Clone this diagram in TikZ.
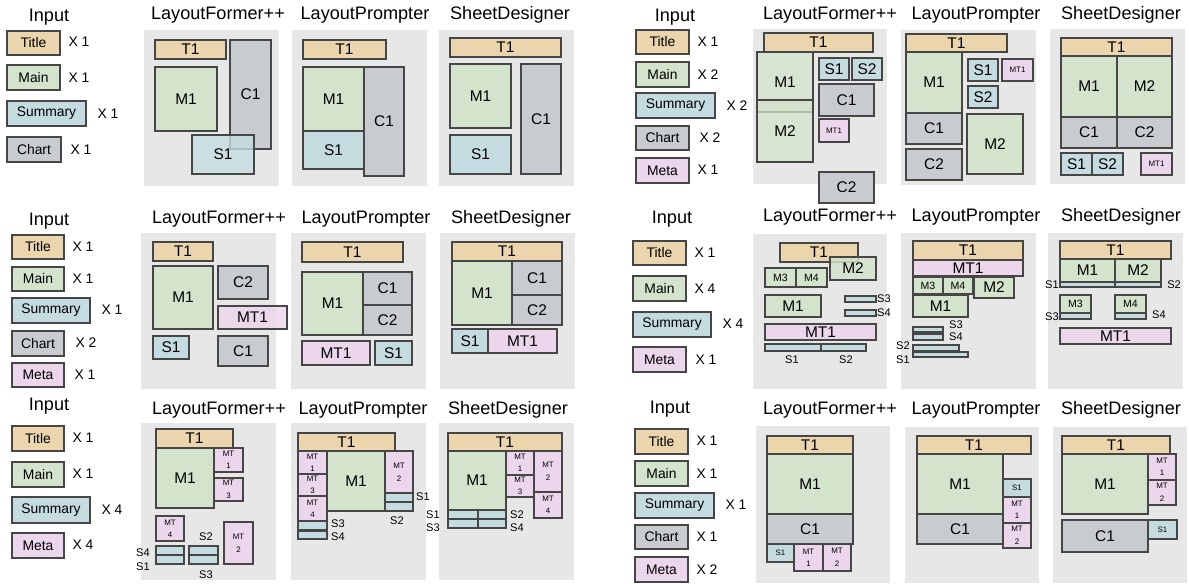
\documentclass[tikz,border=0pt]{standalone}
\usepackage{fontspec}
\setmainfont{Liberation Sans}

\definecolor{edge}{RGB}{70,70,70}
\definecolor{ctitle}{RGB}{234,213,172}
\definecolor{cmain}{RGB}{212,227,204}
\definecolor{csum}{RGB}{196,220,224}
\definecolor{cchart}{RGB}{200,203,208}
\definecolor{cmeta}{RGB}{235,214,235}
\definecolor{cpanel}{RGB}{231,231,231}

% box with centred label, coordinates in pixels
\newcommand{\blk}[6]{\draw[#1] (#2,#3) rectangle (#4,#5);
  \node[lbl] at ({(#2+#4)/2},{(#3+#5)/2}) {#6};}
% input box, smaller label
\newcommand{\inbox}[6]{\draw[#1] (#2,#3) rectangle (#4,#5);
  \node[cnt] at ({(#2+#4)/2},{(#3+#5)/2}) {#6};}
\newcommand{\fsm}{\fontsize{6}{6.5}\selectfont}
\newcommand{\fxs}{\fontsize{4.5}{5}\selectfont}
\newcommand{\mtl}[1]{{\fxs\shortstack{MT\\[1pt]#1}}}

\begin{document}
\begin{tikzpicture}
  [x=0.02cm, y=-0.02cm,
   every node/.style={inner sep=0pt},
   hd/.style={font=\fontsize{10.3}{12}\selectfont},
   cnt/.style={font=\fontsize{7.9}{9}\selectfont},
   lbl/.style={font=\fontsize{8.8}{10}\selectfont},
   bl/.style={font=\fontsize{6.3}{7}\selectfont},
   panel/.style={fill=cpanel},
   bx/.style={draw=edge, line width=0.6pt},
   tb/.style={bx, fill=ctitle},
   mb/.style={bx, fill=cmain},
   sb/.style={bx, fill=csum},
   cb/.style={bx, fill=cchart},
   mtb/.style={bx, fill=cmeta}]
  \useasboundingbox (0,0) rectangle (1189,583);

  % ---- group 1 ----
  \node[hd] (in1) at (49,17) {Input};
  \inbox{tb}{7}{31}{60}{55}{Title}     \node[cnt] at (79,42) {X 1};
  \inbox{mb}{7}{65}{60}{90}{Main}      \node[cnt] at (79,78) {X 1};
  \inbox{sb}{7}{101}{86}{126}{Summary} \node[cnt] at (108,114) {X 1};
  \inbox{cb}{7}{137}{61}{162}{Chart}   \node[cnt] at (81,150) {X 1};

  \fill[panel] (144,30) rectangle (279,186);
  \node[hd] (lf1) at (218,15) {LayoutFormer++};
  \blk{tb}{155}{40}{226}{59}{T1}
  \blk{mb}{155}{67}{217}{131}{M1}
  \blk{cb}{230}{40}{271}{149}{C1}
  \blk{sb,fill opacity=.8}{192}{135}{254}{174}{S1}

  \fill[panel] (292,30) rectangle (427,186);
  \node[hd] (lp1) at (365,15) {LayoutPrompter};
  \blk{tb}{303}{40}{386}{59}{T1}
  \blk{mb}{303}{67}{364}{131}{M1}
  \blk{sb}{303}{131}{364}{169}{S1}
  \blk{cb}{364}{67}{404}{176}{C1}

  \fill[panel] (439,30) rectangle (574,186);
  \node[hd] (sd1) at (510,15) {SheetDesigner};
  \blk{tb}{450}{38}{561}{57}{T1}
  \blk{mb}{450}{64}{511}{128}{M1}
  \blk{sb}{450}{135}{511}{174}{S1}
  \blk{cb}{521}{64}{561}{174}{C1}

  % ---- group 2 ----
  \node[hd] (in2) at (675,17) {Input};
  \inbox{tb}{636}{30}{689}{54}{Title}     \node[cnt] at (708,42) {X 1};
  \inbox{mb}{636}{62}{689}{87}{Main}      \node[cnt] at (708,75) {X 2};
  \inbox{sb}{636}{93}{715}{118}{Summary}  \node[cnt] at (737,106) {X 2};
  \inbox{cb}{636}{126}{689}{150}{Chart}   \node[cnt] at (710,138) {X 2};
  \inbox{mtb}{636}{158}{689}{183}{Meta}   \node[cnt] at (708,170) {X 1};

  \fill[panel] (753,29) rectangle (887,184);
  \node[hd] (lf2) at (830,15) {LayoutFormer++};
  \blk{tb}{764}{33}{873}{52}{T1}
  \blk{mb,fill opacity=.75}{757}{52}{813}{112}{M1}
  \blk{mb,fill opacity=.75}{757}{100}{813}{162}{M2}
  \blk{sb}{819}{58}{849}{80}{S1}
  \blk{sb}{852}{58}{882}{80}{S2}
  \blk{cb}{819}{84}{874}{116}{C1}
  \blk{mtb}{819}{119}{849}{142}{\fxs MT1}
  \blk{cb}{819}{172}{874}{203}{C2}

  \fill[panel] (901,30) rectangle (1036,185);
  \node[hd] (lp2) at (976,15) {LayoutPrompter};
  \blk{tb}{906}{34}{1007}{52}{T1}
  \blk{mb}{906}{52}{962}{113}{M1}
  \blk{cb}{906}{113}{962}{144}{C1}
  \blk{cb}{906}{149}{962}{180}{C2}
  \blk{sb}{968}{59}{998}{81}{S1}
  \blk{mtb}{1002}{59}{1033}{81}{\fxs MT1}
  \blk{sb}{968}{86}{998}{108}{S2}
  \blk{mb}{967}{114}{1023}{174}{M2}

  \fill[panel] (1050,29) rectangle (1185,184);
  \node[hd] (sd2) at (1121,15) {SheetDesigner};
  \blk{tb}{1061}{38}{1172}{56}{T1}
  \blk{mb}{1061}{56}{1117}{117}{M1}
  \blk{mb}{1117}{56}{1172}{117}{M2}
  \blk{cb}{1061}{117}{1117}{148}{C1}
  \blk{cb}{1117}{117}{1172}{148}{C2}
  \blk{sb}{1061}{153}{1092}{175}{S1}
  \blk{sb}{1092}{153}{1123}{175}{S2}
  \blk{mtb}{1141}{153}{1172}{175}{\fxs MT1}

  % ---- group 3 ----
  \node[hd] (in3) at (49,221) {Input};
  \inbox{tb}{12}{235}{64}{259}{Title}     \node[cnt] at (83,247) {X 1};
  \inbox{mb}{12}{267}{64}{291}{Main}      \node[cnt] at (83,279) {X 1};
  \inbox{sb}{12}{298}{90}{323}{Summary}   \node[cnt] at (112,310) {X 1};
  \inbox{cb}{12}{331}{64}{356}{Chart}     \node[cnt] at (86,343) {X 2};
  \inbox{mtb}{12}{363}{64}{387}{Meta}     \node[cnt] at (85,375) {X 1};

  \fill[panel] (141,233) rectangle (276,389);
  \node[hd] (lf3) at (219,219) {LayoutFormer++};
  \blk{tb}{153}{242}{213}{261}{T1}
  \blk{mb}{153}{266}{213}{329}{M1}
  \blk{cb}{218}{266}{268}{299}{C2}
  \blk{mtb,fill opacity=.8}{218}{306}{287}{329}{MT1}
  \blk{sb}{153}{336}{189}{359}{S1}
  \blk{cb}{218}{336}{268}{366}{C1}

  \fill[panel] (291,233) rectangle (426,389);
  \node[hd] (lp3) at (366,219) {LayoutPrompter};
  \blk{tb}{302}{242}{403}{262}{T1}
  \blk{mb}{302}{272}{363}{335}{M1}
  \blk{cb}{363}{272}{412}{305}{C1}
  \blk{cb}{363}{305}{412}{335}{C2}
  \blk{mtb}{302}{341}{370}{365}{MT1}
  \blk{sb}{375}{341}{412}{365}{S1}

  \fill[panel] (440,233) rectangle (575,389);
  \node[hd] (sd3) at (511,219) {SheetDesigner};
  \blk{tb}{452}{242}{562}{261}{T1}
  \blk{mb}{452}{261}{512}{325}{M1}
  \blk{cb}{512}{261}{562}{295}{C1}
  \blk{cb}{512}{295}{562}{325}{C2}
  \blk{sb}{452}{329}{488}{353}{S1}
  \blk{mtb}{488}{329}{557}{353}{MT1}

  % ---- group 4 ----
  \node[hd] (in4) at (672,219) {Input};
  \inbox{tb}{633}{241}{686}{265}{Title}    \node[cnt] at (705,253) {X 1};
  \inbox{mb}{633}{276}{686}{301}{Main}     \node[cnt] at (705,289) {X 4};
  \inbox{sb}{633}{312}{711}{337}{Summary}  \node[cnt] at (733,324) {X 4};
  \inbox{mtb}{633}{347}{686}{372}{Meta}    \node[cnt] at (706,360) {X 1};

  \fill[panel] (753,234) rectangle (887,389);
  \node[hd] (lf4) at (830,217) {LayoutFormer++};
  \blk{tb}{780}{243}{858}{262}{T1}
  \blk{mb,fill opacity=.85}{830}{257}{876}{280}{M2}
  \blk{mb}{765}{268}{796}{287}{\fsm M3}
  \blk{mb}{796}{268}{827}{287}{\fsm M4}
  \blk{mb}{765}{295}{821}{317}{M1}
  \blk{sb}{845}{296}{876}{302}{} \node[bl] at (884,299) {S3};
  \blk{sb}{845}{310}{876}{316}{} \node[bl] at (884,313) {S4};
  \blk{mtb}{765}{324}{876}{340}{MT1}
  \blk{sb}{765}{344}{821}{351}{} \node[bl] at (792,360) {S1};
  \blk{sb}{821}{344}{866}{351}{} \node[bl] at (846,360) {S2};

  \fill[panel] (901,233) rectangle (1036,389);
  \node[hd] (lp4) at (976,217) {LayoutPrompter};
  \blk{tb}{913}{241}{1023}{260}{T1}
  \blk{mtb}{913}{260}{1023}{276}{MT1}
  \blk{mb}{974}{277}{1014}{298}{M2}
  \blk{mb}{913}{277}{943}{294}{\fsm M3}
  \blk{mb}{943}{277}{973}{294}{\fsm M4}
  \blk{mb}{913}{295}{968}{317}{M1}
  \blk{sb}{913}{327}{943}{332}{} \node[bl] at (956,325) {S3};
  \blk{sb}{913}{334}{943}{340}{} \node[bl] at (956,337) {S4};
  \blk{sb}{913}{345}{959}{351}{} \node[bl] at (903,346) {S2};
  \blk{sb}{913}{352}{968}{357}{} \node[bl] at (903,360) {S1};

  \fill[panel] (1048,233) rectangle (1183,389);
  \node[hd] (sd4) at (1121,217) {SheetDesigner};
  \blk{tb}{1060}{241}{1171}{259}{T1}
  \blk{mb}{1060}{259}{1115}{282}{M1}
  \blk{mb}{1115}{259}{1161}{282}{M2}
  \blk{sb}{1060}{282}{1115}{287}{} \node[bl] at (1052,285) {S1};
  \blk{sb}{1115}{282}{1161}{287}{} \node[bl] at (1174,285) {S2};
  \blk{mb}{1060}{295}{1091}{313}{\fsm M3}
  \blk{sb}{1060}{313}{1091}{319}{} \node[bl] at (1052,317) {S3};
  \blk{mb}{1115}{295}{1146}{313}{\fsm M4}
  \blk{sb}{1115}{313}{1146}{319}{} \node[bl] at (1159,315) {S4};
  \blk{mtb}{1060}{328}{1171}{344}{MT1}

  % ---- group 5 ----
  \node[hd] (in5) at (49,406) {Input};
  \inbox{tb}{12}{426}{64}{451}{Title}     \node[cnt] at (83,438) {X 1};
  \inbox{mb}{12}{462}{64}{487}{Main}      \node[cnt] at (83,474) {X 1};
  \inbox{sb}{12}{497}{90}{523}{Summary}   \node[cnt] at (112,510) {X 4};
  \inbox{mtb}{12}{533}{64}{558}{Meta}     \node[cnt] at (83,545) {X 4};

  \fill[panel] (141,423) rectangle (276,580);
  \node[hd] (lf5) at (219,410) {LayoutFormer++};
  \blk{tb}{156}{429}{233}{448}{T1}
  \blk{mb}{156}{448}{214}{508}{M1}
  \blk{mtb}{214}{448}{243}{472}{\mtl{1}}
  \blk{mtb}{214}{478}{243}{501}{\mtl{3}}
  \blk{mtb}{156}{516}{184}{541}{\mtl{4}}
  \blk{mtb}{224}{522}{253}{564}{\mtl{2}}
  \blk{sb}{156}{546}{184}{555}{} \node[bl] at (143,553) {S4};
  \blk{sb}{156}{555}{184}{564}{} \node[bl] at (143,567) {S1};
  \blk{sb}{189}{546}{218}{555}{} \node[bl] at (206,537) {S2};
  \blk{sb}{189}{555}{218}{564}{} \node[bl] at (206,575) {S3};

  \fill[panel] (291,423) rectangle (426,580);
  \node[hd] (lp5) at (363,410) {LayoutPrompter};
  \blk{tb}{298}{433}{395}{451}{T1}
  \blk{mtb}{298}{451}{327}{474}{\mtl{1}}
  \blk{mtb}{298}{474}{327}{496}{\mtl{3}}
  \blk{mtb}{298}{496}{327}{521}{\mtl{4}}
  \blk{sb}{298}{521}{327}{530}{} \node[bl] at (338,524) {S3};
  \blk{sb}{298}{531}{327}{539}{} \node[bl] at (338,537) {S4};
  \blk{mb}{327}{451}{385}{511}{M1}
  \blk{mtb}{385}{451}{413}{493}{\mtl{2}}
  \blk{sb}{385}{493}{413}{502}{} \node[bl] at (423,497) {S1};
  \blk{sb}{385}{502}{413}{511}{} \node[bl] at (397,521) {S2};

  \fill[panel] (439,423) rectangle (574,580);
  \node[hd] (sd5) at (508,410) {SheetDesigner};
  \blk{tb}{448}{433}{562}{451}{T1}
  \blk{mb}{448}{451}{506}{510}{M1}
  \blk{mtb}{506}{451}{534}{475}{\mtl{1}}
  \blk{mtb}{506}{475}{534}{497}{\mtl{3}}
  \blk{mtb}{534}{451}{562}{492}{\mtl{2}}
  \blk{mtb}{534}{492}{562}{518}{\mtl{4}}
  \blk{sb}{448}{510}{478}{519}{} \node[bl] at (433,515) {S1};
  \blk{sb}{478}{510}{506}{519}{} \node[bl] at (517,515) {S2};
  \blk{sb}{448}{519}{478}{528}{} \node[bl] at (433,528) {S3};
  \blk{sb}{478}{519}{506}{528}{} \node[bl] at (517,528) {S4};

  % ---- group 6 ----
  \node[hd] (in6) at (670,409) {Input};
  \inbox{tb}{635}{429}{688}{454}{Title}    \node[cnt] at (707,441) {X 1};
  \inbox{mb}{635}{461}{688}{486}{Main}     \node[cnt] at (707,474) {X 1};
  \inbox{sb}{635}{493}{714}{518}{Summary}  \node[cnt] at (736,505) {X 1};
  \inbox{cb}{635}{525}{688}{549}{Chart}    \node[cnt] at (707,537) {X 1};
  \inbox{mtb}{635}{557}{688}{582}{Meta}    \node[cnt] at (707,570) {X 2};

  \fill[panel] (756,426) rectangle (890,583);
  \node[hd] (lf6) at (830,410) {LayoutFormer++};
  \blk{tb}{767}{436}{853}{454}{T1}
  \blk{mb}{767}{454}{853}{514}{M1}
  \blk{cb}{767}{514}{853}{544}{C1}
  \blk{sb}{767}{544}{794}{562}{\fxs S1}
  \blk{mtb}{794}{544}{823}{571}{\mtl{1}}
  \blk{mtb}{823}{544}{851}{571}{\mtl{2}}

  \fill[panel] (905,427) rectangle (1039,583);
  \node[hd] (lp6) at (976,410) {LayoutPrompter};
  \blk{tb}{917}{436}{1031}{454}{T1}
  \blk{mb}{917}{454}{1003}{514}{M1}
  \blk{cb}{917}{514}{1003}{544}{C1}
  \blk{sb}{1003}{479}{1031}{497}{\fxs S1}
  \blk{mtb}{1003}{497}{1031}{523}{\mtl{1}}
  \blk{mtb}{1003}{523}{1031}{548}{\mtl{2}}

  \fill[panel] (1053,427) rectangle (1187,583);
  \node[hd] (sd6) at (1121,410) {SheetDesigner};
  \blk{tb}{1062}{436}{1170}{454}{T1}
  \blk{mb}{1062}{454}{1148}{514}{M1}
  \blk{mtb}{1148}{454}{1176}{480}{\mtl{1}}
  \blk{mtb}{1148}{480}{1176}{505}{\mtl{2}}
  \blk{cb}{1062}{520}{1148}{552}{C1}
  \blk{sb}{1148}{520}{1177}{539}{\fxs S1}
\end{tikzpicture}
\end{document}
